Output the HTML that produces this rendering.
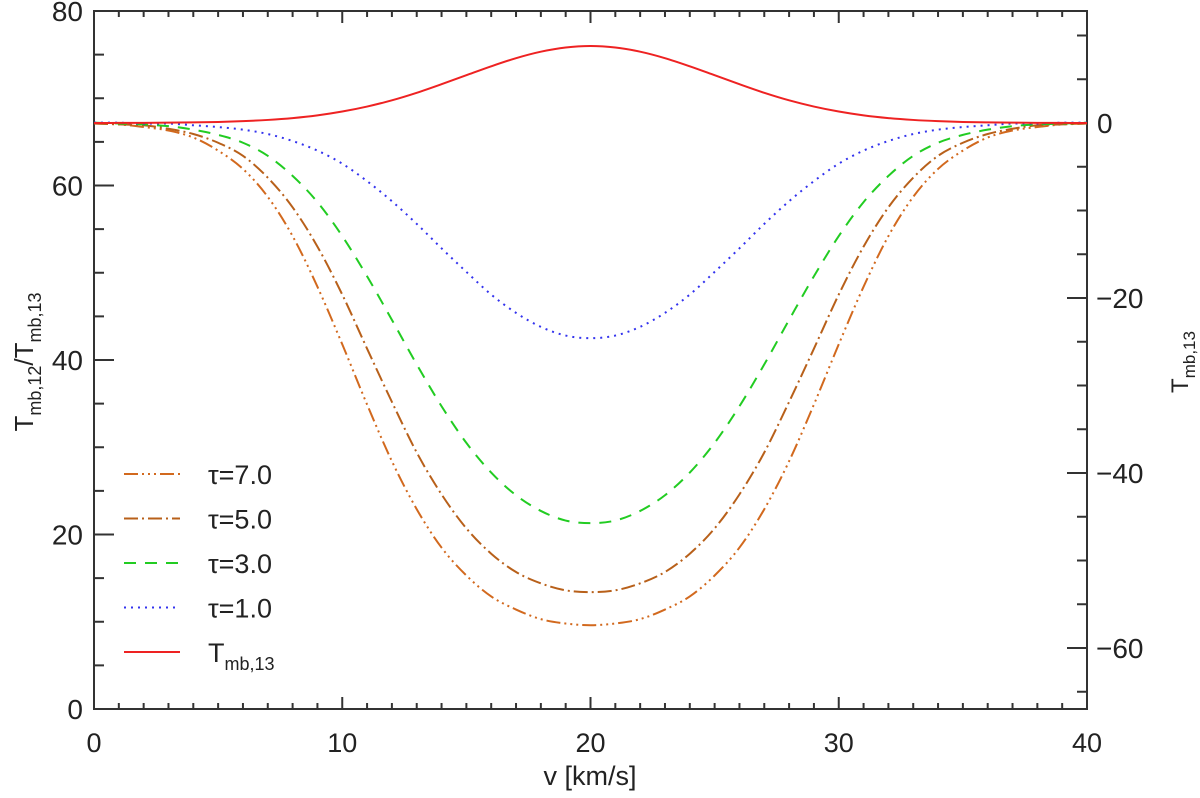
<!DOCTYPE html>
<html><head><meta charset="utf-8"><style>
html,body{margin:0;padding:0;background:#fff;}
svg{display:block;font-family:"Liberation Sans","DejaVu Sans",sans-serif;}
</style></head><body>
<svg id="chart" width="1200" height="798" viewBox="0 0 1200 798">
<g id="axes"></g>
<g id="series"></g>
<g id="legend"></g>
<text x="590" y="785" font-size="27" text-anchor="middle" fill="#222">v  [km/s]</text>
<text transform="translate(33,362) rotate(-90)" font-size="26" text-anchor="middle" fill="#222">T<tspan font-size="18" dy="8">mb,12</tspan><tspan dy="-8">/T</tspan><tspan font-size="18" dy="8">mb,13</tspan></text>
<text transform="translate(1188,362) rotate(-90)" font-size="24" text-anchor="middle" fill="#222">T<tspan font-size="17" dy="7">mb,13</tspan></text>
</svg>
<script>
const velocities = [0,1,2,3,4,5,6,7,8,9,10,11,12,13,14,15,16,17,18,19,20,21,22,23,24,25,26,27,28,29,30,31,32,33,34,35,36,37,38,39,40];
const ratioTau1 = [67.2,67.2,67.1,67.1,66.9,66.7,66.4,65.9,65.1,64.0,62.5,60.5,58.2,55.6,52.8,50.1,47.5,45.4,43.8,42.8,42.5,42.8,43.8,45.4,47.5,50.1,52.8,55.6,58.2,60.5,62.5,64.0,65.1,65.9,66.4,66.7,66.9,67.1,67.1,67.2,67.2];
const ratioTau3 = [67.2,67.1,67.0,66.8,66.4,65.8,64.9,63.4,61.1,58.1,54.2,49.6,44.6,39.5,34.7,30.5,27.1,24.5,22.7,21.6,21.3,21.6,22.7,24.5,27.1,30.5,34.7,39.5,44.6,49.6,54.2,58.1,61.1,63.4,64.9,65.8,66.4,66.8,67.0,67.1,67.2];
const ratioTau5 = [67.1,67.0,66.9,66.5,65.9,64.9,63.4,60.9,57.5,53.0,47.5,41.3,35.2,29.4,24.6,20.7,17.8,15.7,14.4,13.6,13.4,13.6,14.4,15.7,17.8,20.7,24.6,29.4,35.2,41.3,47.5,53.0,57.5,60.9,63.4,64.9,65.9,66.5,66.9,67.0,67.1];
const ratioTau7 = [67.1,67.0,66.7,66.3,65.5,64.0,61.9,58.7,54.2,48.4,41.8,34.9,28.4,22.9,18.5,15.3,12.9,11.4,10.3,9.8,9.6,9.8,10.3,11.4,12.9,15.3,18.5,22.9,28.4,34.9,41.8,48.4,54.2,58.7,61.9,64.0,65.5,66.3,66.7,67.0,67.1];
const tmb13 = [0,0.01,0.02,0.04,0.07,0.12,0.21,0.35,0.56,0.87,1.31,1.88,2.59,3.45,4.43,5.46,6.48,7.41,8.15,8.63,8.8,8.63,8.15,7.41,6.48,5.46,4.43,3.45,2.59,1.88,1.31,0.87,0.56,0.35,0.21,0.12,0.07,0.04,0.02,0.01,0];
const xTicks = [0,10,20,30,40];
const leftTicks = [0,20,40,60,80];
const rightTicks = [0,-20,-40,-60];
const legendLabels = ["τ=7.0","τ=5.0","τ=3.0","τ=1.0","Tmb,13"];

const NS="http://www.w3.org/2000/svg";
const X0=94,X1=1087,YT=11,YB=709;
const xs=v=>X0+(v-0)/(40-0)*(X1-X0);
const yL=v=>YB-(v/80)*(YB-YT);
const yR=v=>123-v*8.75;
function mk(tag,attrs,parent){const e=document.createElementNS(NS,tag);for(const k in attrs)e.setAttribute(k,attrs[k]);parent.appendChild(e);return e;}
const axes=document.getElementById('axes');
const ax='#333';
let frame=mk('rect',{x:X0,y:YT,width:X1-X0,height:YB-YT,fill:'none',stroke:ax,'stroke-width':2},axes);


for(let v=0;v<=40;v++){
  const major=v%10===0, len=major?12:6, x=xs(v);
  let t1=mk('line',{x1:x,x2:x,y1:YB,y2:YB-len,stroke:ax,'stroke-width':2},axes);
  
  
  let t2=mk('line',{x1:x,x2:x,y1:YT,y2:YT+len,stroke:ax,'stroke-width':2},axes);
  
  
}
xTicks.forEach(v=>{
  let t=mk('text',{x:xs(v),y:752,'font-size':27,'text-anchor':'middle',fill:'#222'},axes);t.textContent=v;
  
  
});
for(let v=0;v<=80;v+=5){
  const major=v%20===0,len=major?20:10;
  let t=mk('line',{x1:X0,x2:X0+len,y1:yL(v),y2:yL(v),stroke:ax,'stroke-width':2},axes);
  
  
}
leftTicks.forEach(v=>{
  let t=mk('text',{x:83,y:yL(v)+10,'font-size':28,'text-anchor':'end',fill:'#222'},axes);t.textContent=v;
  
  
});
for(let v=10;v>=-65;v-=5){
  const major=v%20===0,len=major?20:10;
  let t=mk('line',{x1:X1,x2:X1-len,y1:yR(v),y2:yR(v),stroke:ax,'stroke-width':2},axes);
  
  
}
rightTicks.forEach(v=>{
  let t=mk('text',{x:v===0?1097:1096,y:yR(v)+10,'font-size':28,'text-anchor':'start',fill:'#222'},axes);t.textContent=v===0?'0':'\u2212'+(-v);
  
  
});
function smooth(pts){
  let d=`M${pts[0][0]},${pts[0][1]}`;
  for(let i=0;i<pts.length-1;i++){
    const p0=pts[Math.max(0,i-1)],p1=pts[i],p2=pts[i+1],p3=pts[Math.min(pts.length-1,i+2)];
    const c1=[p1[0]+(p2[0]-p0[0])/6,p1[1]+(p2[1]-p0[1])/6],c2=[p2[0]-(p3[0]-p1[0])/6,p2[1]-(p3[1]-p1[1])/6];
    d+=` C${c1[0]},${c1[1]} ${c2[0]},${c2[1]} ${p2[0]},${p2[1]}`;
  }
  return d;
}
const styles=[
 {data:ratioTau7,y:yL,color:'#d2691e',dash:'14 4 2 4 2 4 2 4',name:'tau-7-line'},
 {data:ratioTau5,y:yL,color:'#b8601a',dash:'14 4 2 4',name:'tau-5-line'},
 {data:ratioTau3,y:yL,color:'#22cc22',dash:'12 9',name:'tau-3-line'},
 {data:ratioTau1,y:yL,color:'#3333ee',dash:'2 5',name:'tau-1-line'},
 {data:tmb13,y:yR,color:'#ee2222',dash:'none',name:'tmb13-line'}
];
const series=document.getElementById('series');
styles.forEach(s=>{
  const pts=velocities.map((v,i)=>[xs(v),s.y(s.data[i])]);
  let p=mk('path',{d:smooth(pts),fill:'none',stroke:s.color,'stroke-width':2,'stroke-dasharray':s.dash},series);
  
  
});
const legend=document.getElementById('legend');
styles.forEach((s,i)=>{
  const y=474+i*44.5;
  let l=mk('line',{x1:124,x2:180,y1:y,y2:y,stroke:s.color,'stroke-width':2,'stroke-dasharray':s.dash},legend);
  
  
  let t=mk('text',{x:208,y:y+10,'font-size':27,fill:'#222'},legend);
  if(i<4){t.textContent=legendLabels[i];}
  else{t.textContent='T';let ts=mk('tspan',{'font-size':18,dy:8},t);ts.textContent='mb,13';}
  
  
});
</script>
</body></html>
